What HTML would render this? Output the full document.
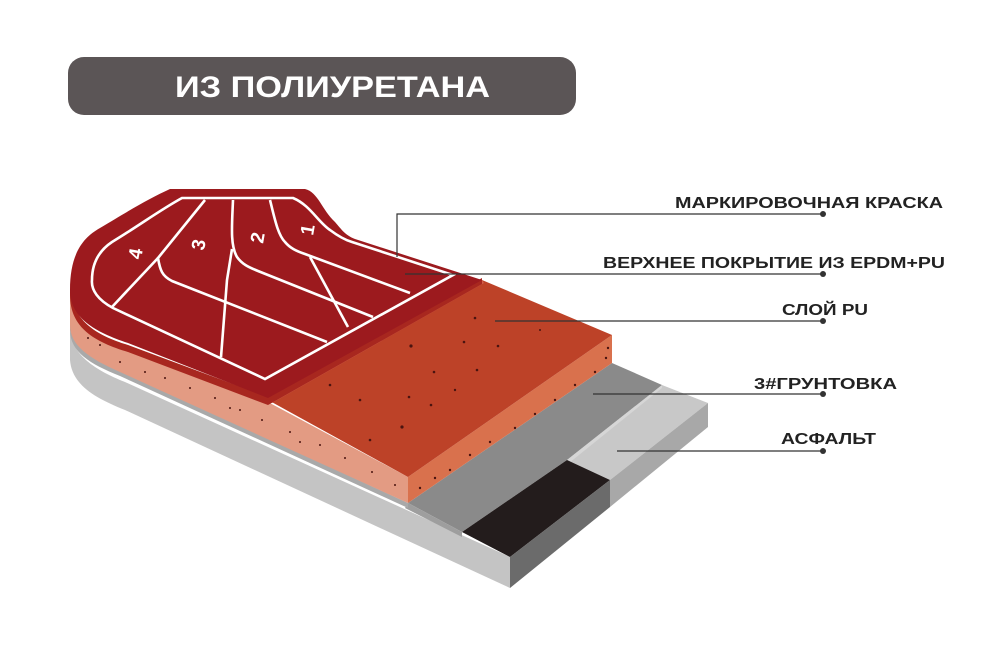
<!DOCTYPE html>
<html><head><meta charset="utf-8"><style>
html,body{margin:0;padding:0;background:#fff;width:1000px;height:650px;overflow:hidden}
svg{display:block}
</style></head><body>
<svg width="1000" height="650" viewBox="0 0 1000 650" xmlns="http://www.w3.org/2000/svg">
<rect x="68" y="57" width="508" height="58" rx="16" fill="#5b5556"/>
<text x="175" y="97" font-family="Liberation Sans, sans-serif" font-weight="bold" font-size="30" fill="#fff" textLength="315" lengthAdjust="spacingAndGlyphs">ИЗ  ПОЛИУРЕТАНА</text>

<!-- asphalt base: left side face -->
<path d="M70,320 L70,360 C72,385 95,398 125,410 L510,588 L510,557 L125,382 C95,370 72,355 70,330 Z" fill="#c4c4c4"/>
<!-- asphalt top right -->
<path d="M662,385 L708,403 L610,480 L567,460 Z" fill="#c8c8c8"/>
<!-- asphalt right front face -->
<path d="M610,480 L708,403 L708,427 L610,507 Z" fill="#a8a8a8"/>
<!-- primer top -->
<path d="M408,503 L612,363 L662,385 L567,460 L462,532 Z" fill="#8a8a8a"/>
<path d="M567,460 L662,385 L662,388 L569,463 L466,533 L462,532 Z" fill="#d6d6d6"/>
<path d="M408,503 L462,532 L462,537 L405,508 Z" fill="#9e9e9e"/>
<!-- black block -->
<path d="M462,532 L567,460 L610,480 L510,557 Z" fill="#231c1c"/>
<path d="M510,557 L610,480 L610,507 L510,588 Z" fill="#6b6b6b"/>
<!-- gray under salmon left -->
<path d="M70,320 C72,345 90,358 120,370 L408,503 L408,508 L120,376 C90,364 70,352 70,330 Z" fill="#a9a9a9"/>
<!-- PU left side salmon -->
<path d="M70,290 C72,320 95,335 128,345 L268,402 L408,477 L408,503 L120,372 C88,358 70,345 70,325 Z" fill="#e39b83"/>
<!-- PU front -->
<path d="M408,477 L612,335 L612,363 L408,503 Z" fill="#d9714d"/>
<!-- PU top -->
<path d="M268,400 L482,280 L612,335 L408,477 Z" fill="#bd4228"/>
<path d="M268,400 L482,280 L484,283 L272,403 Z" fill="#d2604c"/>
<!-- red top slab edge -->
<path d="M70,287 C72,320 95,335 128,345 L268,397 L482,278 L482,284 L268,405 L128,352 C95,342 70,328 70,295 Z" fill="#a8271f"/>
<!-- red top surface -->
<path d="M170,189 L305,189 C318,192 322,210 335,222 C342,230 345,235 355,239 L482,280 L268,398 L128,343 C95,332 70,318 70,290 C70,255 82,238 100,228 C130,210 150,198 170,189 Z" fill="#9c1a1e"/>
<!-- track lines -->
<g fill="none" stroke="#fff" stroke-width="2.6">
<path d="M182,198 L293,198 C310,205 318,222 330,230 C338,236 345,240 352,242 L453,275 L265,379 L113,308 C98,300 91,290 92,280 C92,262 100,250 112,242 C140,225 160,210 182,198 Z"/>
<path d="M270,200 C275,220 278,235 285,242 C290,248 296,251 305,254 L410,293"/>
<path d="M233,200 C232,225 230,245 237,257 C242,264 248,267 258,271 L373,317"/>
<path d="M205,200 L158,258 C160,270 162,276 172,281 L327,342"/>
<path d="M158,258 L112,307"/>
<path d="M232,249 L227,280 L221,357"/>
<path d="M310,257 L348,327"/>
</g>
<g font-family="Liberation Sans, sans-serif" font-weight="bold" font-size="19" fill="#fff">
<text transform="translate(141,260) rotate(-80)">4</text>
<text transform="translate(204,251) rotate(-80)">3</text>
<text transform="translate(263,244) rotate(-80)">2</text>
<text transform="translate(313,236) rotate(-80)">1</text>
</g>
<!-- speckles -->
<g fill="#4a1410">
<circle cx="475" cy="318" r="1.3"/><circle cx="411" cy="346" r="1.6"/><circle cx="464" cy="342" r="1.3"/><circle cx="498" cy="346" r="1.3"/><circle cx="434" cy="372" r="1.3"/><circle cx="477" cy="370" r="1.3"/><circle cx="431" cy="405" r="1.3"/><circle cx="402" cy="427" r="1.6"/><circle cx="409" cy="397" r="1.3"/><circle cx="455" cy="390" r="1.2"/><circle cx="360" cy="400" r="1.3"/><circle cx="330" cy="385" r="1.3"/><circle cx="540" cy="330" r="1"/><circle cx="370" cy="440" r="1.3"/>
<circle cx="120" cy="362" r="1"/><circle cx="145" cy="372" r="1"/><circle cx="165" cy="378" r="1"/><circle cx="190" cy="388" r="1"/><circle cx="215" cy="398" r="1"/><circle cx="240" cy="410" r="1"/><circle cx="262" cy="420" r="1"/><circle cx="290" cy="432" r="1"/><circle cx="320" cy="445" r="1"/><circle cx="345" cy="458" r="1"/><circle cx="372" cy="472" r="1"/><circle cx="395" cy="485" r="1"/><circle cx="100" cy="345" r="1"/><circle cx="88" cy="338" r="1"/><circle cx="230" cy="408" r="1"/><circle cx="300" cy="442" r="1"/>
<circle cx="420" cy="488" r="1.2"/><circle cx="435" cy="478" r="1.2"/><circle cx="450" cy="470" r="1.2"/><circle cx="470" cy="455" r="1.2"/><circle cx="490" cy="442" r="1.2"/><circle cx="515" cy="428" r="1.2"/><circle cx="535" cy="414" r="1.2"/><circle cx="555" cy="400" r="1.2"/><circle cx="575" cy="385" r="1.2"/><circle cx="595" cy="372" r="1.2"/><circle cx="606" cy="358" r="1.2"/><circle cx="608" cy="348" r="1.2"/>
</g>
<!-- leader lines -->
<g stroke="#333" stroke-width="1.2" fill="none">
<path d="M397,257 L397,214 L823,214"/>
<path d="M405,274 L823,274"/>
<path d="M495,321 L823,321"/>
<path d="M593,394 L823,394"/>
<path d="M617,451 L823,451"/>
</g>
<g fill="#333">
<circle cx="823" cy="214" r="3"/><circle cx="823" cy="274" r="3"/><circle cx="823" cy="321" r="3"/><circle cx="823" cy="394" r="3"/><circle cx="823" cy="451" r="3"/>
</g>
<g font-family="Liberation Sans, sans-serif" font-weight="bold" font-size="16" fill="#222">
<text x="675" y="208" textLength="268" lengthAdjust="spacingAndGlyphs">МАРКИРОВОЧНАЯ КРАСКА</text>
<text x="603" y="268" textLength="342" lengthAdjust="spacingAndGlyphs">ВЕРХНЕЕ ПОКРЫТИЕ ИЗ EPDM+PU</text>
<text x="782" y="315" textLength="86" lengthAdjust="spacingAndGlyphs">СЛОЙ PU</text>
<text x="754" y="389" textLength="143" lengthAdjust="spacingAndGlyphs">3#ГРУНТОВКА</text>
<text x="781" y="444" textLength="95" lengthAdjust="spacingAndGlyphs">АСФАЛЬТ</text>
</g>
</svg>
</body></html>
